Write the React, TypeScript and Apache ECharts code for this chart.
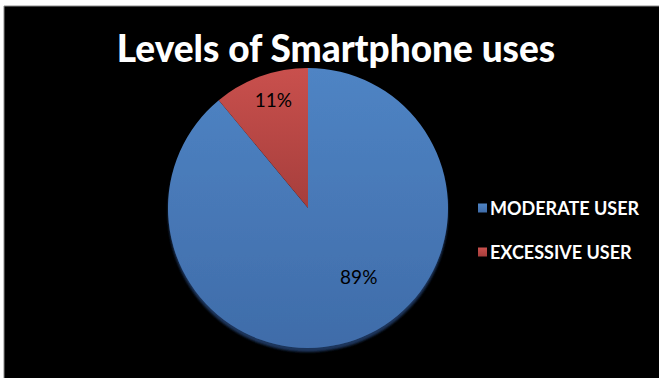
import React, { useEffect, useRef } from "react";
import * as echarts from "echarts";

const categories = ["MODERATE USER", "EXCESSIVE USER"];
const values = [89, 11];
const titleText = "Levels of Smartphone uses";

export default function App() {
  const ref = useRef<HTMLDivElement>(null);
  useEffect(() => {
    const chart = echarts.init(ref.current!, null, { renderer: "svg" });
    const colors = [
      new echarts.graphic.LinearGradient(0, 0, 0, 1, [
        { offset: 0, color: "#4f84c4" },
        { offset: 1, color: "#3f6ca9" },
      ]),
      new echarts.graphic.LinearGradient(0, 0, 0, 1, [
        { offset: 0, color: "#c9504d" },
        { offset: 1, color: "#a63e3c" },
      ]),
    ];
    // per-slice label nudges via rich-text padding [top, right, bottom, left]
    const labelPads = [
      [0, 0, 0, 52],
      [0, 20, 80, 0],
    ];
    chart.setOption({
      animation: false,
      backgroundColor: "#ffffff",
      graphic: [
        {
          type: "rect",
          z: -10,
          shape: { x: 4, y: 6, width: 660, height: 380 },
          style: { fill: "#000000", stroke: "#8a8a8a", lineWidth: 1 },
        },
      ],
      title: {
        text: titleText,
        left: 331,
        top: 24,
        textAlign: "center",
        textStyle: {
          color: "#ffffff",
          fontFamily: "Lato",
          fontWeight: 900,
          fontSize: 37,
        },
      },
      legend: {
        orient: "vertical",
        left: 473,
        top: 194,
        itemWidth: 9,
        itemHeight: 9,
        itemGap: 26,
        icon: "rect",
        data: categories,
        textStyle: {
          color: "#ffffff",
          fontFamily: "Lato",
          fontWeight: "bold",
          fontSize: 18,
          padding: [0, 0, 0, -2],
        },
      },
      series: [
        {
          type: "pie",
          center: [308, 208],
          radius: 140,
          startAngle: 90,
          clockwise: true,
          label: {
            show: true,
            position: "inside",
            color: "#000000",
          },
          labelLine: { show: false },
          emphasis: { disabled: true },
          data: categories.map((name, i) => ({
            name,
            value: values[i],
            label: {
              formatter: "{t|{d}%}",
              rich: {
                t: {
                  color: "#000000",
                  fontFamily: "Lato",
                  fontSize: 19,
                  padding: labelPads[i],
                },
              },
            },
            itemStyle:
              i === 0
                ? {
                    color: colors[i],
                    shadowColor: "rgba(28,52,92,1)",
                    shadowOffsetY: 4,
                    shadowBlur: 2,
                  }
                : { color: colors[i] },
          })),
        },
      ],
    });
    return () => chart.dispose();
  }, []);
  return (
    <div
      ref={ref}
      style={{ position: "fixed", left: 0, top: 0, width: 659, height: 378 }}
    />
  );
}
